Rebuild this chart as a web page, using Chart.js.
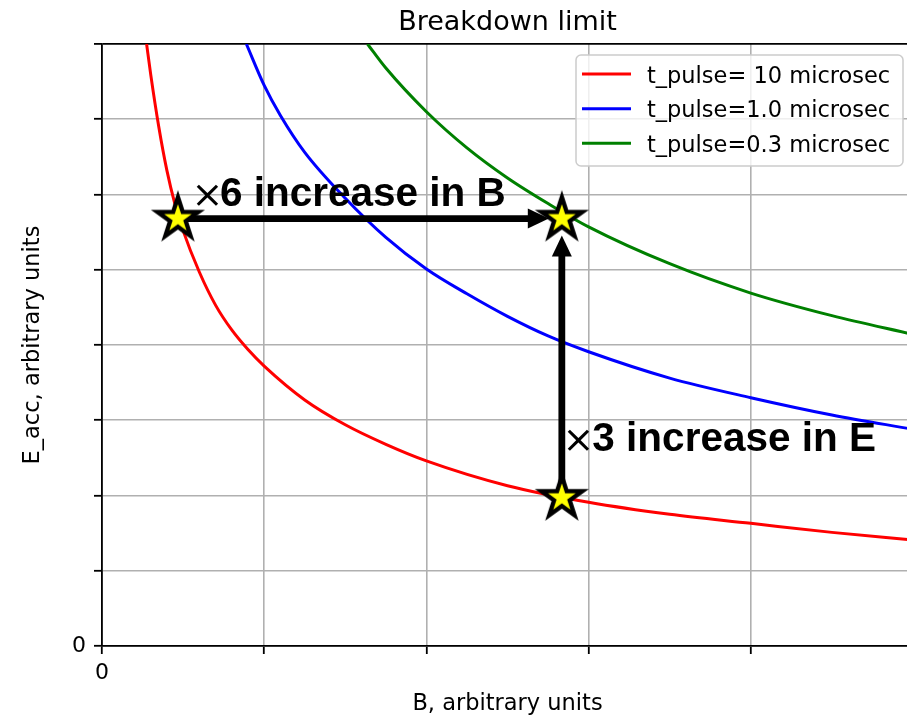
<!DOCTYPE html>
<html>
<head>
<meta charset="utf-8">
<script src="https://cdn.jsdelivr.net/npm/chart.js@4/dist/chart.umd.min.js"></script>
<style>
html,body{margin:0;padding:0;background:#fff;overflow:hidden;width:907px;height:718px}
#wrap{width:907px;height:718px;overflow:hidden;position:relative;background:#fff}
canvas{display:block}
</style>
</head>
<body>
<div id="wrap"><canvas id="c" width="913" height="718"></canvas></div>
<script>
// ---------- data ----------
const chartTitle = 'Breakdown limit';
const xAxisTitle = 'B, arbitrary units';
const yAxisTitle = 'E_acc, arbitrary units';
const xTicks = [0, 1, 2, 3, 4, 5];
const xTickLabels = ['0', '', '', '', '', ''];
const yTicks = [0, 1, 2, 3, 4, 5, 6, 7, 8];
const yTickLabels = ['0', '', '', '', '', '', '', '', ''];
const seriesLabels = ['t_pulse= 10 microsec', 't_pulse=1.0 microsec', 't_pulse=0.3 microsec'];

const redB = [0.275, 0.3, 0.35, 0.4, 0.45, 0.5, 0.6, 0.7, 0.8, 0.9, 1.0, 1.25, 1.5, 1.75, 2.0, 2.5, 3.0, 3.5, 4.0, 4.5, 5.0];
const redE = [8.0, 7.6, 6.9, 6.32, 5.87, 5.52, 4.97, 4.53, 4.2, 3.94, 3.72, 3.27, 2.94, 2.68, 2.46, 2.13, 1.91, 1.75, 1.63, 1.51, 1.41];

const blueB = [0.89, 1.0, 1.1, 1.25, 1.5, 1.75, 2.0, 2.25, 2.5, 2.75, 3.0, 3.5, 4.0, 4.5, 5.0];
const blueE = [8.0, 7.45, 7.05, 6.56, 5.95, 5.43, 5.01, 4.68, 4.38, 4.12, 3.91, 3.56, 3.30, 3.07, 2.88];

const greenB = [1.637, 1.75, 2.0, 2.25, 2.5, 2.75, 3.0, 3.5, 4.0, 4.5, 5.0];
const greenE = [8.0, 7.68, 7.1, 6.62, 6.22, 5.88, 5.57, 5.08, 4.69, 4.39, 4.14];

const starB = [0.468, 2.835, 2.835];
const starE = [5.68, 5.68, 1.97];

const annotTimes = '\u00d7';
const annotTexts = ['6 increase in B', '3 increase in E'];

// ---------- helpers ----------
function pts(xs, ys) { return xs.map((x, i) => ({x: x, y: ys[i]})); }

function makeStar() {
  const c = document.createElement('canvas');
  c.width = 72; c.height = 72;
  const g = c.getContext('2d');
  const R = 21.5, r = R * 0.381966, cx = 36, cy = 36;
  g.beginPath();
  for (let k = 0; k < 10; k++) {
    const a = -Math.PI / 2 + k * Math.PI / 5;
    const rr = (k % 2 === 0) ? R : r;
    const px = cx + rr * Math.cos(a), py = cy + rr * Math.sin(a);
    if (k === 0) g.moveTo(px, py); else g.lineTo(px, py);
  }
  g.closePath();
  g.fillStyle = '#ffff00';
  g.fill();
  g.lineJoin = 'miter';
  g.miterLimit = 10;
  g.lineWidth = 4.3;
  g.strokeStyle = '#000';
  g.stroke();
  return c;
}
const starImg = makeStar();

function arrow(ctx, x0, y0, x1, y1, lw, hl, hw) {
  const dx = x1 - x0, dy = y1 - y0, L = Math.hypot(dx, dy), ux = dx / L, uy = dy / L;
  const bx = x1 - ux * hl, by = y1 - uy * hl;
  ctx.save();
  ctx.strokeStyle = '#000';
  ctx.lineWidth = lw;
  ctx.lineCap = 'butt';
  ctx.beginPath();
  ctx.moveTo(x0, y0);
  ctx.lineTo(bx + ux * 2, by + uy * 2);
  ctx.stroke();
  ctx.fillStyle = '#000';
  ctx.beginPath();
  ctx.moveTo(x1, y1);
  ctx.lineTo(bx - uy * hw, by + ux * hw);
  ctx.lineTo(bx + uy * hw, by - ux * hw);
  ctx.closePath();
  ctx.fill();
  ctx.restore();
}

const overlay = {
  id: 'overlay',
  beforeDraw(chart) {
    const ctx = chart.ctx, a = chart.chartArea;
    ctx.save();
    ctx.fillStyle = '#000';
    ctx.font = "27px 'DejaVu Sans'";
    ctx.textAlign = 'center';
    ctx.textBaseline = 'alphabetic';
    ctx.fillText(chartTitle, (a.left + a.right) / 2, 30);
    ctx.restore();
  },
  beforeDatasetDraw(chart, args) {
    if (args.index !== 3) return;
    const ctx = chart.ctx, xs = chart.scales.x, ys = chart.scales.y;
    const p = starB.map((b, i) => ({x: xs.getPixelForValue(b), y: ys.getPixelForValue(starE[i])}));
    arrow(ctx, p[0].x, p[0].y, p[1].x - 13, p[0].y, 6.8, 21, 10);
    arrow(ctx, p[2].x, p[2].y, p[1].x, p[1].y + 17, 6.8, 21, 10);
  },
  afterDatasetsDraw(chart) {
    const ctx = chart.ctx, xs = chart.scales.x, ys = chart.scales.y, a = chart.chartArea;
    const p = starB.map((b, i) => ({x: xs.getPixelForValue(b), y: ys.getPixelForValue(starE[i])}));
    const anchors = [
      {tx: p[0].x + 29.5, bx: p[0].x + 42, by: p[0].y - 13},
      {tx: p[2].x + 16.7, bx: p[2].x + 30.5, by: p[2].y - 47}
    ];
    ctx.save();
    ctx.fillStyle = '#000';
    ctx.textBaseline = 'alphabetic';
    anchors.forEach((an, i) => {
      ctx.font = "38px 'DejaVu Sans'";
      ctx.textAlign = 'center';
      ctx.fillText(annotTimes, an.tx, an.by + 1);
      ctx.font = "bold 40.5px 'Liberation Sans'";
      ctx.textAlign = 'left';
      ctx.fillText(annotTexts[i], an.bx, an.by);
    });
    ctx.restore();

    // legend
    const bw = 327, bh = 111;
    const lx = a.right - 10 - bw, ly = a.top + 11;
    ctx.save();
    ctx.beginPath();
    if (ctx.roundRect) ctx.roundRect(lx, ly, bw, bh, 5); else ctx.rect(lx, ly, bw, bh);
    ctx.fillStyle = 'rgba(255,255,255,0.8)';
    ctx.fill();
    ctx.lineWidth = 1.5;
    ctx.strokeStyle = '#cccccc';
    ctx.stroke();
    ctx.font = "22.5px 'DejaVu Sans'";
    ctx.textAlign = 'left';
    ctx.textBaseline = 'alphabetic';
    for (let i = 0; i < 3; i++) {
      const ds = chart.data.datasets[i];
      const cy = ly + 19 + i * 34.65;
      ctx.strokeStyle = ds.borderColor;
      ctx.lineWidth = 3;
      ctx.beginPath();
      ctx.moveTo(lx + 6, cy);
      ctx.lineTo(lx + 55, cy);
      ctx.stroke();
      ctx.fillStyle = '#000';
      ctx.fillText(ds.label, lx + 71, cy + 8.5);
    }
    ctx.restore();
  }
};

const gridColor = '#b0b0b0';
const spineColor = '#000';

new Chart(document.getElementById('c'), {
  type: 'scatter',
  data: {
    datasets: [
      {label: seriesLabels[0], data: pts(redB, redE), showLine: true, borderColor: '#ff0000', borderWidth: 3, pointRadius: 0, cubicInterpolationMode: 'monotone', clip: 0, order: 1},
      {label: seriesLabels[1], data: pts(blueB, blueE), showLine: true, borderColor: '#0000ff', borderWidth: 3, pointRadius: 0, cubicInterpolationMode: 'monotone', clip: 0, order: 2},
      {label: seriesLabels[2], data: pts(greenB, greenE), showLine: true, borderColor: '#008000', borderWidth: 3, pointRadius: 0, cubicInterpolationMode: 'monotone', clip: 0, order: 3},
      {label: 'stars', data: pts(starB, starE), showLine: false, pointStyle: starImg, pointRadius: 10, pointHoverRadius: 10, clip: false, order: -1}
    ]
  },
  options: {
    responsive: false,
    devicePixelRatio: 1,
    animation: false,
    events: [],
    layout: {autoPadding: false, padding: {top: 44, left: 0, right: 0, bottom: 0}},
    plugins: {legend: {display: false}, title: {display: false}, tooltip: {enabled: false}},
    scales: {
      x: {
        type: 'linear', min: 0, max: 5, position: 'bottom',
        afterBuildTicks: s => { s.ticks = xTicks.map(v => ({value: v})); },
        afterFit: s => { s.height = 72; s.paddingLeft = 0; s.paddingRight = 0; },
        ticks: {callback: (v, i) => xTickLabels[i], font: {family: 'DejaVu Sans', size: 22}, color: '#000', padding: 6, maxRotation: 0, autoSkip: false},
        grid: {color: c => (c.tick && c.tick.value === 5) ? spineColor : gridColor, lineWidth: 1.6, drawTicks: true, tickLength: 8, tickColor: spineColor, tickWidth: 1.8},
        border: {display: true, color: spineColor, width: 1.8},
        title: {display: true, text: xAxisTitle, font: {family: 'DejaVu Sans', size: 22.5}, color: '#000', padding: {top: 0, bottom: 0}}
      },
      y: {
        type: 'linear', min: 0, max: 8, position: 'left',
        afterBuildTicks: s => { s.ticks = yTicks.map(v => ({value: v})); },
        afterFit: s => { s.width = 102; s.paddingTop = 0; s.paddingBottom = 0; },
        ticks: {callback: (v, i) => yTickLabels[i], font: {family: 'DejaVu Sans', size: 22}, color: '#000', padding: 8, autoSkip: false},
        grid: {color: c => (c.tick && c.tick.value === 8) ? spineColor : gridColor, lineWidth: c => (c.tick && c.tick.value === 8) ? 1.8 : 1.6, drawTicks: true, tickLength: 8, tickColor: spineColor, tickWidth: 1.8},
        border: {display: true, color: spineColor, width: 1.8},
        title: {display: true, text: yAxisTitle, font: {family: 'DejaVu Sans', size: 22.5}, color: '#000', padding: {top: 20, bottom: 0}}
      }
    }
  },
  plugins: [overlay]
});
</script>
</body>
</html>
